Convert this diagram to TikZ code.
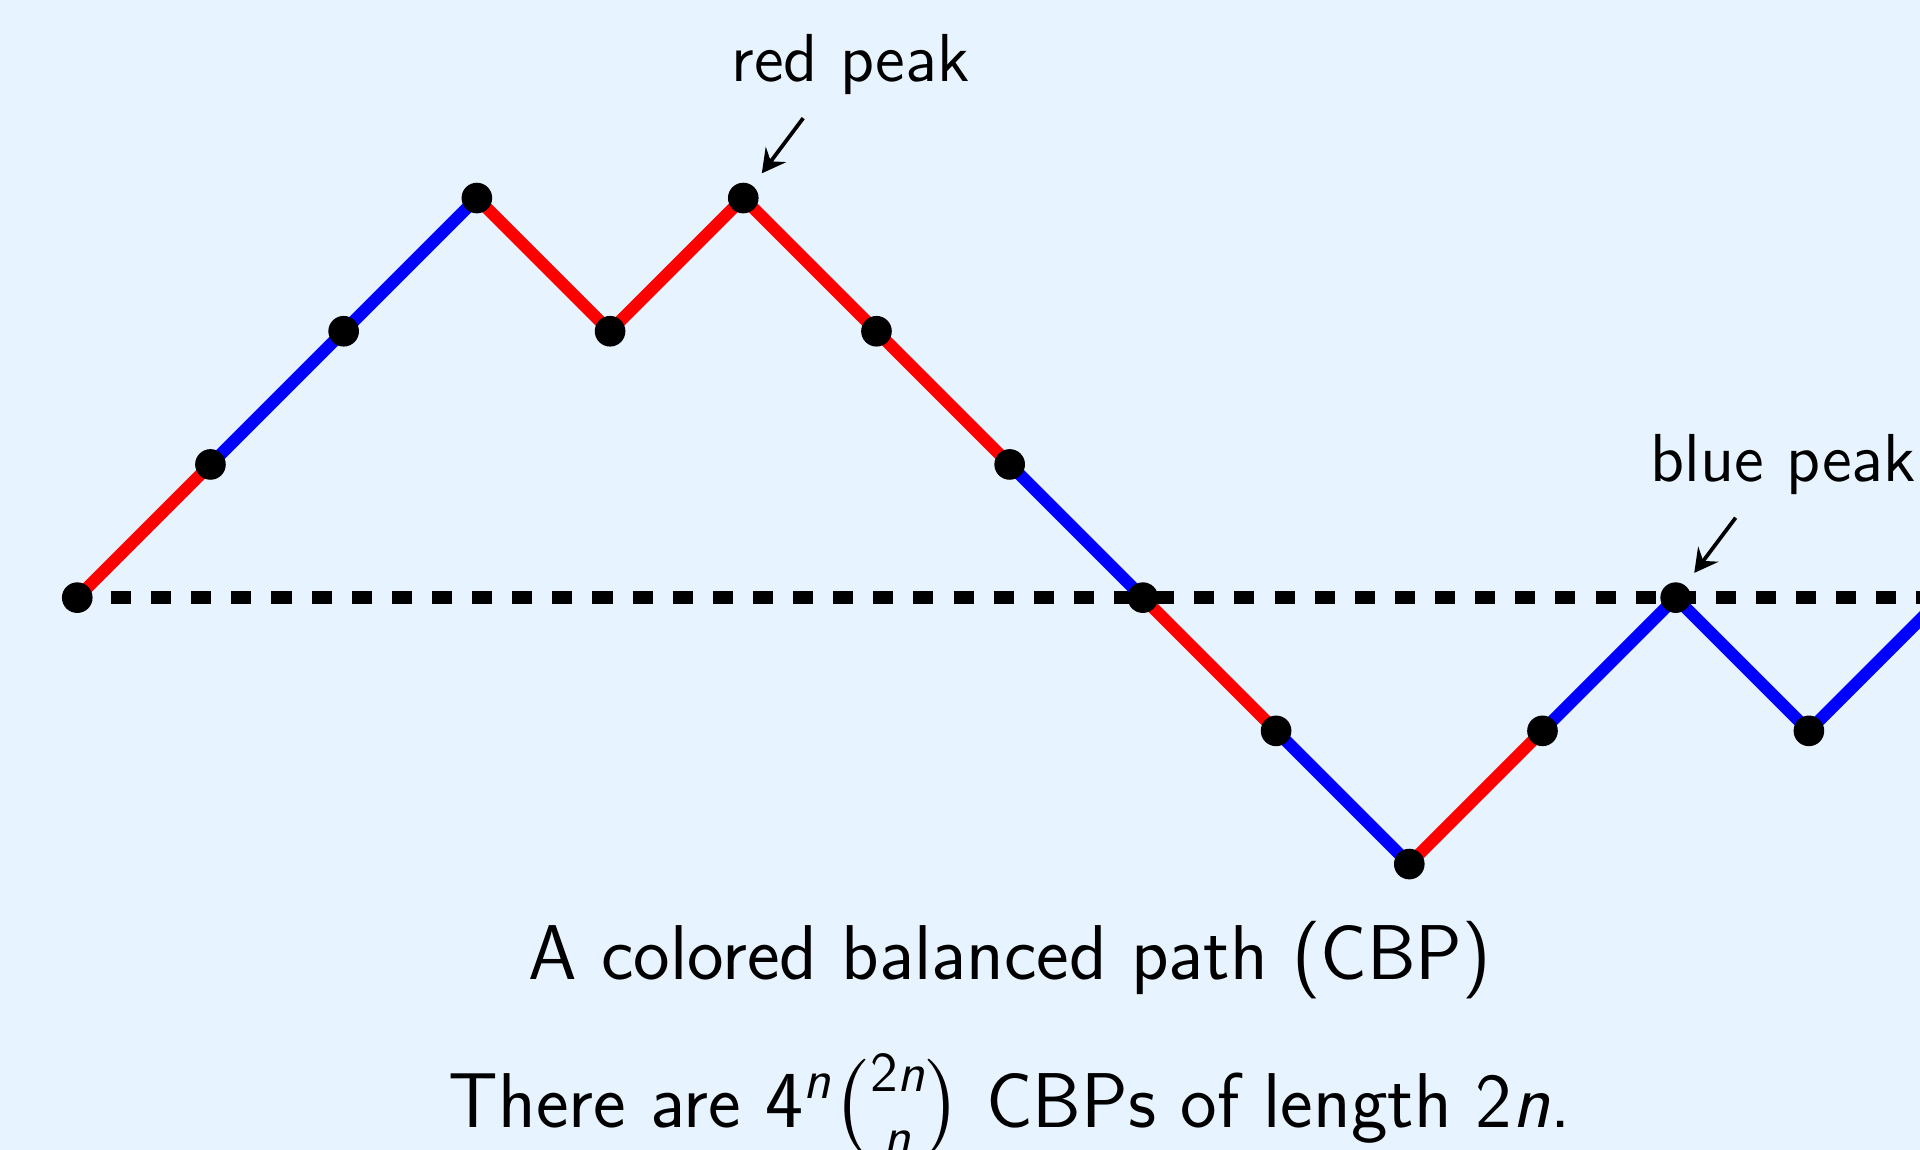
\documentclass[tikz,border=0pt]{standalone}
\usepackage{amsmath}
\usetikzlibrary{arrows.meta}
\renewcommand{\familydefault}{\sfdefault}
\definecolor{bgblue}{RGB}{231,243,254}
\newcommand{\sfn}{\textit{n}}

\begin{document}
\begin{tikzpicture}[
    dot/.style={circle,fill=black,inner sep=0pt,minimum size=0.23cm},
    seg/.style={line width=2.6pt},
    baseline axis/.style={line width=2.7pt,dash pattern=on 0.1506cm off 0.1506cm,dash phase=0.048cm},
    pointer/.style={line width=0.8pt,-{Stealth[length=5pt,width=5.4pt,inset=1.8pt]},shorten >=0.11cm},
    peaklabel/.style={anchor=base,font=\fontsize{14.5}{17}\selectfont},
    caption/.style={anchor=base,font=\fontsize{16.6}{20}\selectfont}
]
    % background and frame
    \clip (-0.58,-4.146) rectangle (13.834,4.487);
    \fill[bgblue] (-0.58,-4.146) rectangle (13.834,4.487);

    % lattice points of the path
    \foreach \i/\h in {0/0,1/1,2/2,3/3,4/2,5/3,6/2,7/1,8/0,9/-1,10/-2,11/-1,12/0,13/-1,14/0}
        \coordinate (p\i) at (\i,\h);
    \coordinate (far) at (16,0);

    % level zero
    \draw[baseline axis] (p0) -- (far);

    % colored steps
    \foreach \i/\j/\c in {0/1/red,1/2/blue,2/3/blue,3/4/red,4/5/red,5/6/red,6/7/red,
                          7/8/blue,8/9/red,9/10/blue,10/11/red,11/12/blue,12/13/blue,13/14/blue}
        \draw[seg,\c] (p\i) -- (p\j);

    \foreach \i in {0,...,13}
        \node[dot] (d\i) at (p\i) {};

    % peak labels
    \node[peaklabel] (rlabel) at (5.806,3.874) {red peak};
    \coordinate (rtail) at (5.45,3.6);
    \draw[pointer] (rtail) -- (d5);

    \node[peaklabel] (blabel) at (12.808,0.871) {blue peak};
    \coordinate (btail) at (12.45,0.6);
    \draw[pointer] (btail) -- (d12);

    % captions
    \node[caption] (cap1) at (7,-2.870) {A colored balanced path (CBP)};
    \node[caption] (cap2) at (7,-3.98) {There are $\mathsf{4}^{\sfn}\binom{\mathsf{2}\sfn}{\sfn}$ CBPs of length 2\textit{n}.};
\end{tikzpicture}
\end{document}
